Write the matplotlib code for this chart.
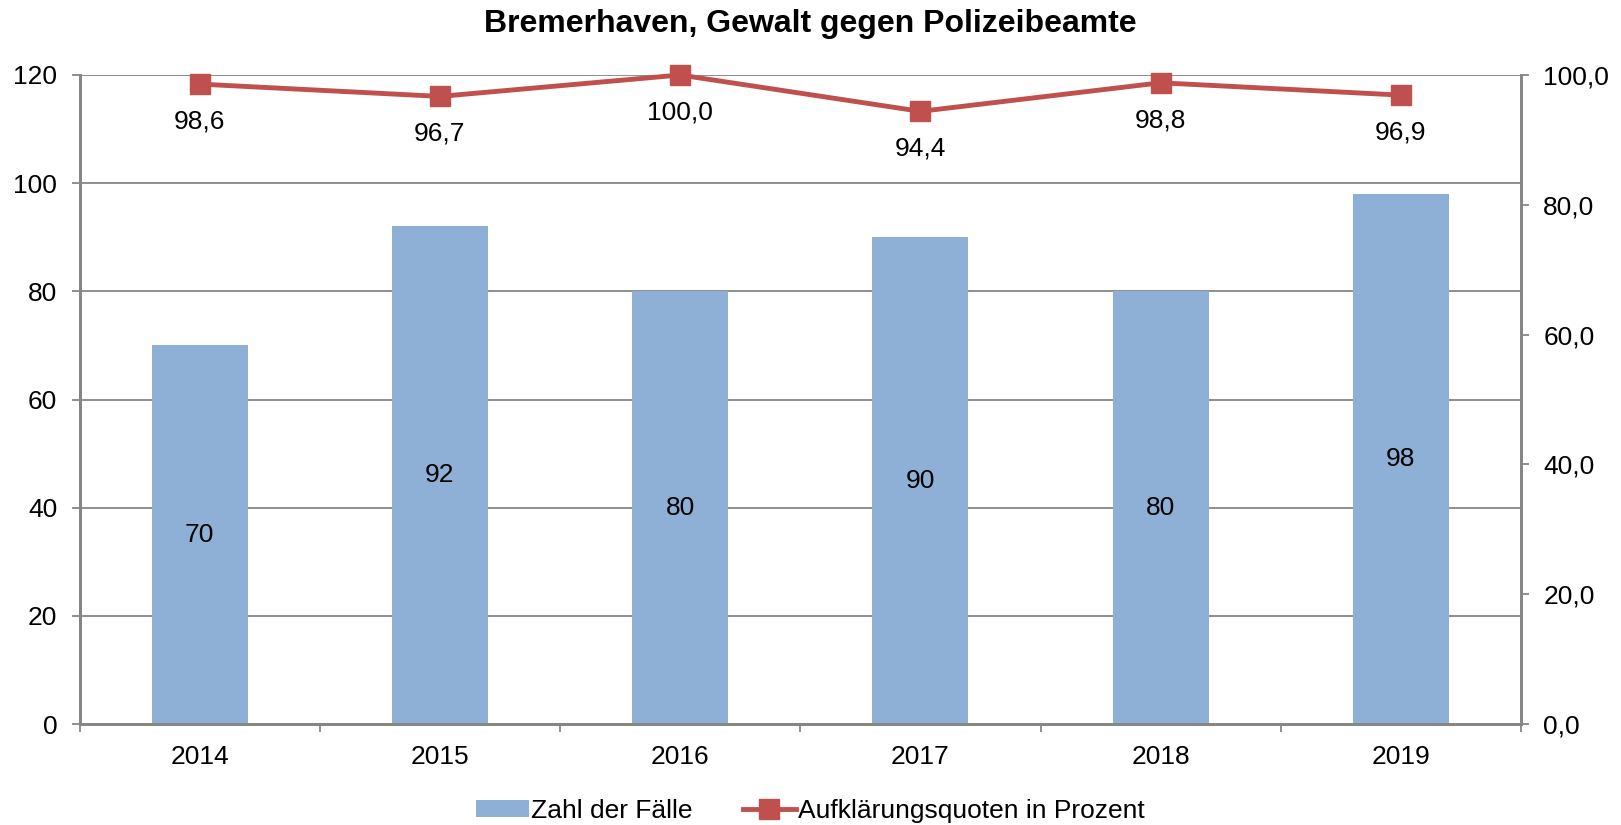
import matplotlib
matplotlib.use("Agg")
import matplotlib.pyplot as plt
import numpy as np

plt.rcParams['font.family'] = ['Liberation Sans', 'DejaVu Sans']

years = ["2014", "2015", "2016", "2017", "2018", "2019"]
cases = [70, 92, 80, 90, 80, 98]
quote = [98.6, 96.7, 100.0, 94.4, 98.8, 96.9]
title = "Bremerhaven, Gewalt gegen Polizeibeamte"
bar_label = "Zahl der Fälle"
line_label = "Aufklärungsquoten in Prozent"

bar_color = "#8FB0D6"
line_color = "#C0504D"
grid_color = "#868686"
FS = 19

W, H = 1621, 825
fig = plt.figure(figsize=(W / 100, H / 100), dpi=100)
ax = fig.add_axes([79.5 / W, 1 - 724 / H, (1521 - 79.5) / W, (724 - 75) / H])
ax2 = ax.twinx()

x = np.arange(len(years))
bars = ax.bar(x, cases, width=0.4, color=bar_color, zorder=2, label=bar_label)
for xi, v in zip(x, cases):
    ax.text(xi, v / 2, f"{v}", ha="center", va="center", fontsize=FS, color="black", zorder=3)

ax.set_xlim(-0.5, len(years) - 0.5)
ax.set_ylim(0, 120)
ax.set_yticks(np.arange(0, 121, 20))
ax.yaxis.grid(True, color=grid_color, linewidth=1.3, zorder=0)
ax.set_axisbelow(True)
ax.set_xticks(x)
ax.set_xticklabels(years)
ax.set_xticks(np.arange(-0.5, len(years)), minor=True)
ax.tick_params(axis="x", which="major", length=0, labelsize=FS, pad=15)
ax.tick_params(axis="x", which="minor", length=6, width=1.3, color=grid_color, direction="out")
ax.tick_params(axis="y", length=6, width=1.3, color=grid_color, labelsize=FS, pad=10)

for a in (ax, ax2):
    a.spines["top"].set_visible(False)
    for s in ["left", "right", "bottom"]:
        a.spines[s].set_color(grid_color)
        a.spines[s].set_linewidth(2)

ax2.plot(x, quote, color=line_color, linewidth=3.5, marker="s", markersize=14.5,
         zorder=4, label=line_label, clip_on=False)
for xi, v in zip(x, quote):
    ax2.annotate(f"{v:.1f}".replace(".", ","), (xi, v), xytext=(0, -27),
                 textcoords="offset points", ha="center", va="center", fontsize=FS)
ax2.set_ylim(0, 100)
ax2.set_yticks(np.arange(0, 101, 20))
ax2.set_yticklabels([f"{t:.1f}".replace(".", ",") for t in np.arange(0, 101, 20)])
ax2.tick_params(axis="y", length=6, width=1.3, color=grid_color, labelsize=FS, pad=10)
ax2.set_zorder(ax.get_zorder() + 1)
ax2.patch.set_visible(False)

fig.suptitle(title, fontsize=23, fontweight="bold", y=1 - 24 / H, va="center")

h1, l1 = ax.get_legend_handles_labels()
h2, l2 = ax2.get_legend_handles_labels()
fig.legend(h1 + h2, l1 + l2, loc="center", bbox_to_anchor=(0.5, 1 - 811 / H), ncol=2,
           frameon=False, fontsize=FS, handlelength=2.0, handleheight=0.6,
           handletextpad=0.1, columnspacing=1.9)

fig.savefig("out.png", dpi=100)
